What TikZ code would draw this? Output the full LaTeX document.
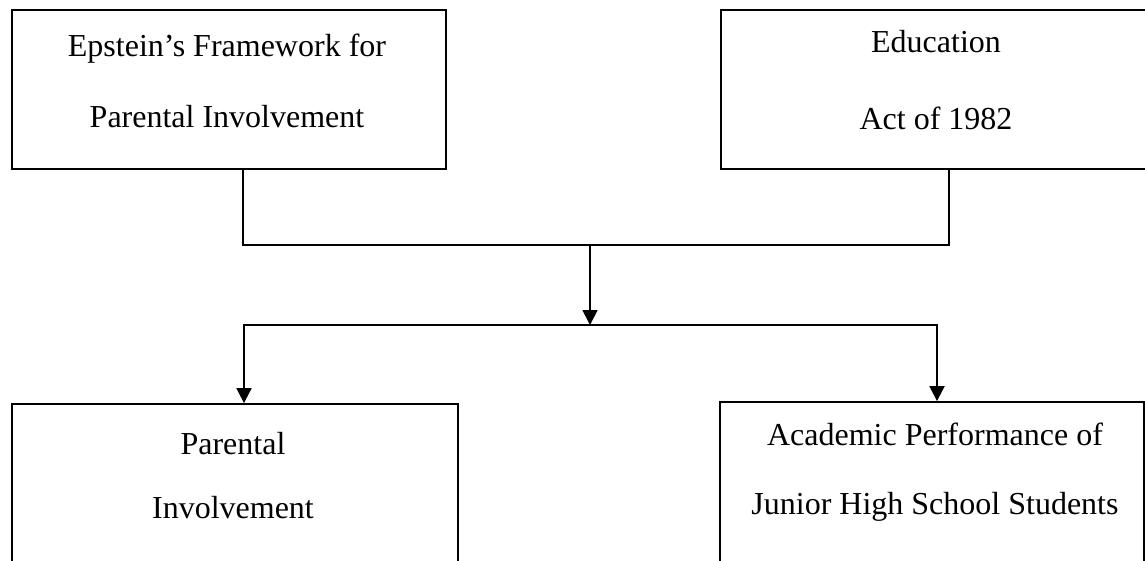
\documentclass[tikz,border=0pt]{standalone}
\usepackage{fontspec}
\setmainfont{Liberation Serif}
\usetikzlibrary{arrows.meta, positioning}

\begin{document}
\begin{tikzpicture}[x=0.5pt, y=-0.5pt,
  box/.style={draw, rectangle, line width=0.9pt, inner sep=0pt, minimum height=#1},
  boxtext/.style={align=center, inner sep=0pt, font=\fontsize{16}{#1}\selectfont},
  conn/.style={line width=0.9pt},
  arrow/.style={conn, -{Triangle[length=7.5pt, width=7.5pt]}}]

\path[use as bounding box, clip] (0,0) rectangle (1145,561);

% Boxes

\node[box=79.5pt, minimum width=217pt] (epstein) at (229,89.5) {};
\node[box=79.5pt, minimum width=212.5pt, right=136.5pt of epstein] (educact) {};

\node[box=120pt, minimum width=223pt] (parental) at (235,524) {};
\node[box=120pt, minimum width=212pt] (academic) at (932,522) {};

\node[boxtext=35.5pt] (epsteintext) at (227,81) {Epstein's Framework for\\Parental Involvement};
\node[boxtext=38.5pt] (educacttext) at (936,80) {Education\\Act of 1982};
\node[boxtext=32pt] (parentaltext) at (233,476) {Parental\\Involvement};
\node[boxtext=34.5pt] (academictext) at (935,472) {Academic Performance of\\Junior High School Students};

% Connectors

\coordinate (merge) at (590,245);
\coordinate (split) at (590,325);

\draw[conn] ([xshift=7pt]epstein.south) |- (merge) -| ([xshift=7.75pt]educact.south);
\draw[arrow] (merge) -- (split);
\draw[arrow] (split) -| ([xshift=4.5pt]parental.north);
\draw[arrow] (split) -| ([xshift=2.5pt]academic.north);

\end{tikzpicture}
\end{document}
